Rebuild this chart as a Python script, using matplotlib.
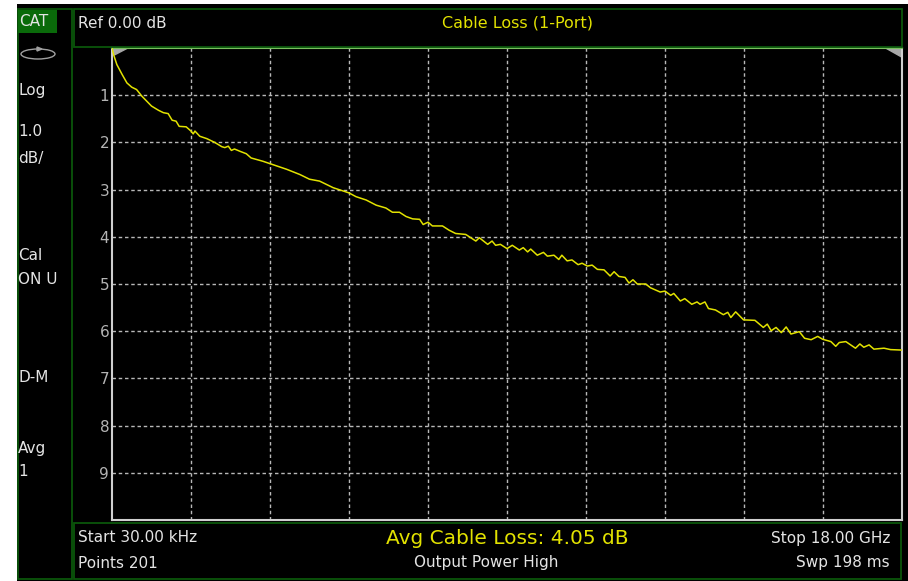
import matplotlib
matplotlib.use("Agg")
import matplotlib.pyplot as plt
from matplotlib.patches import Rectangle, Ellipse, Polygon

# trace: frequency (GHz) vs cable loss (dB)
freq_ghz = [0.00003, 0.036, 0.11, 0.23, 0.34, 0.45, 0.56, 0.68, 0.90, 1.06,
            1.17, 1.28, 1.37, 1.46, 1.53, 1.69, 1.80, 1.85, 1.89, 2.00,
            2.16, 2.34, 2.50, 2.57, 2.65, 2.72, 2.79, 2.92, 3.06, 3.17,
            3.44, 3.60, 3.98, 4.28, 4.50, 4.73, 5.04, 5.40, 5.56, 5.79,
            6.02, 6.24, 6.39, 6.55, 6.70, 6.85, 7.01, 7.09, 7.20, 7.30,
            7.53, 7.68, 7.83, 8.06, 8.29, 8.37, 8.56, 8.66, 8.74, 8.85,
            9.00, 9.12, 9.28, 9.37, 9.47, 9.54, 9.69, 9.83, 9.92, 10.07,
            10.18, 10.25, 10.37, 10.48, 10.62, 10.71, 10.83, 10.94, 11.06, 11.21,
            11.35, 11.44, 11.55, 11.69, 11.78, 11.87, 11.97, 12.16, 12.27, 12.49,
            12.60, 12.73, 12.80, 12.95, 13.05, 13.21, 13.33, 13.40, 13.51, 13.59,
            13.75, 13.93, 14.03, 14.10, 14.21, 14.39, 14.65, 14.84, 14.93, 15.02,
            15.13, 15.25, 15.36, 15.47, 15.66, 15.78, 15.93, 16.08, 16.19, 16.38,
            16.49, 16.57, 16.72, 16.83, 16.94, 17.04, 17.13, 17.25, 17.36, 17.59,
            17.74, 18.00]
loss_db = [0.00, 0.14, 0.35, 0.56, 0.74, 0.83, 0.88, 1.02, 1.23, 1.32,
           1.37, 1.39, 1.53, 1.55, 1.66, 1.67, 1.76, 1.82, 1.76, 1.87,
           1.92, 2.00, 2.09, 2.11, 2.08, 2.17, 2.14, 2.19, 2.24, 2.33,
           2.40, 2.45, 2.57, 2.68, 2.78, 2.82, 2.96, 3.07, 3.15, 3.22,
           3.33, 3.39, 3.48, 3.48, 3.57, 3.62, 3.63, 3.74, 3.69, 3.77,
           3.77, 3.86, 3.93, 3.95, 4.09, 4.02, 4.16, 4.09, 4.18, 4.16,
           4.25, 4.18, 4.28, 4.23, 4.32, 4.26, 4.39, 4.33, 4.41, 4.39,
           4.48, 4.39, 4.51, 4.49, 4.59, 4.56, 4.62, 4.60, 4.69, 4.70,
           4.83, 4.74, 4.84, 4.86, 4.98, 4.91, 5.00, 5.00, 5.08, 5.17,
           5.15, 5.24, 5.20, 5.36, 5.31, 5.43, 5.38, 5.43, 5.38, 5.52,
           5.55, 5.65, 5.60, 5.71, 5.59, 5.76, 5.77, 5.92, 5.85, 5.99,
           5.92, 6.03, 5.91, 6.06, 6.01, 6.15, 6.18, 6.11, 6.17, 6.22,
           6.32, 6.24, 6.22, 6.29, 6.36, 6.27, 6.34, 6.29, 6.38, 6.36,
           6.39, 6.40]

y_ticks = [1, 2, 3, 4, 5, 6, 7, 8, 9]
x_grid_ghz = [1.8, 3.6, 5.4, 7.2, 9.0, 10.8, 12.6, 14.4, 16.2]
side_labels = ["Log", "1.0", "dB/", "Cal", "ON U", "D-M", "Avg", "1"]
side_label_y = [90, 131, 158, 255, 279, 377, 449, 472]
avg_loss = 4.05

W, H = 908, 581
YELLOW = "#e2e200"
TXT = "#e4e4e4"
GREEN = "#0b560b"
FS = 11
plt.rcParams["font.family"] = ["DejaVu Sans"]

fig = plt.figure(figsize=(W / 100, H / 100), dpi=100, facecolor="white")


def fx(px):
    return px / W


def fy(py):
    return 1 - py / H


def box(x0, y0, x1, y1, **kw):
    r = Rectangle((fx(x0), fy(y1)), fx(x1) - fx(x0), fy(y0) - fy(y1),
                  transform=fig.transFigure, **kw)
    fig.add_artist(r)
    return r


def label(px, py, s, **kw):
    fig.text(fx(px), fy(py), s, va="center", **kw)


# instrument screen
box(17, 4, 908, 581, facecolor="black", edgecolor="none", zorder=0)
box(17.5, 9, 72, 579, facecolor="none", edgecolor=GREEN, lw=1.3)
box(74, 9, 902, 47, facecolor="none", edgecolor=GREEN, lw=1.3)
box(74, 523, 901, 579, facecolor="none", edgecolor=GREEN, lw=1.3)
box(18, 10, 57, 33, facecolor="#0a6a0a", edgecolor="none")

label(19, 22, "CAT", color=TXT, fontsize=FS)
fig.add_artist(Ellipse((fx(38), fy(54)), 34 / W, 10 / H, transform=fig.transFigure,
                       facecolor="none", edgecolor="#a0a0a0", lw=1))
fig.add_artist(Polygon([(fx(37), fy(47)), (fx(37), fy(51)), (fx(42), fy(49))],
                       closed=True, transform=fig.transFigure, color="#a0a0a0"))
for s, py in zip(side_labels, side_label_y):
    label(18, py, s, color=TXT, fontsize=FS)

label(78, 23, "Ref 0.00 dB", color=TXT, fontsize=FS)
label(517, 23, "Cable Loss (1-Port)", color=YELLOW, fontsize=FS + 0.5, ha="center")

label(78, 538, "Start 30.00 kHz", color=TXT, fontsize=FS)
label(78, 563, "Points 201", color=TXT, fontsize=FS)
label(507, 538, f"Avg Cable Loss: {avg_loss:.2f} dB", color=YELLOW, fontsize=14.5, ha="center")
label(486, 563, "Output Power High", color=TXT, fontsize=FS, ha="center")
label(890, 538, "Stop 18.00 GHz", color=TXT, fontsize=FS, ha="right")
label(890, 563, "Swp 198 ms", color=TXT, fontsize=FS, ha="right")

# trace area
ax = fig.add_axes([fx(112), fy(520), fx(902) - fx(112), fy(48) - fy(520)])
ax.set_facecolor("black")
ax.set_xlim(0, 18.0)
ax.set_ylim(10, 0)
ax.set_xticks(x_grid_ghz)
ax.set_xticklabels([])
ax.set_yticks(y_ticks)
ax.set_yticklabels([str(t) for t in y_ticks], color="#b4b4b4", fontsize=FS)
ax.tick_params(length=0, pad=2)
ax.grid(True, color="#b8b8b8", lw=1, linestyle=(0, (2.5, 2)))
for side in ["left", "bottom", "right"]:
    ax.spines[side].set_color("#cfcfcf")
    ax.spines[side].set_linewidth(1.5)
ax.spines["top"].set_color("#7ac060")
ax.spines["top"].set_linewidth(1.5)

ax.plot(freq_ghz, loss_db, color=YELLOW, lw=1.1, zorder=3)

# reference position markers in the top corners
ax.add_patch(Polygon([(0.0, 0.0), (0.36, 0.0), (0.05, 0.15)], closed=True, color="#a8a8a8", zorder=2))
ax.add_patch(Polygon([(17.64, 0.0), (18.0, 0.0), (18.0, 0.19)], closed=True, color="#a8a8a8", zorder=2))

fig.savefig("out.png", dpi=100, facecolor="white")
